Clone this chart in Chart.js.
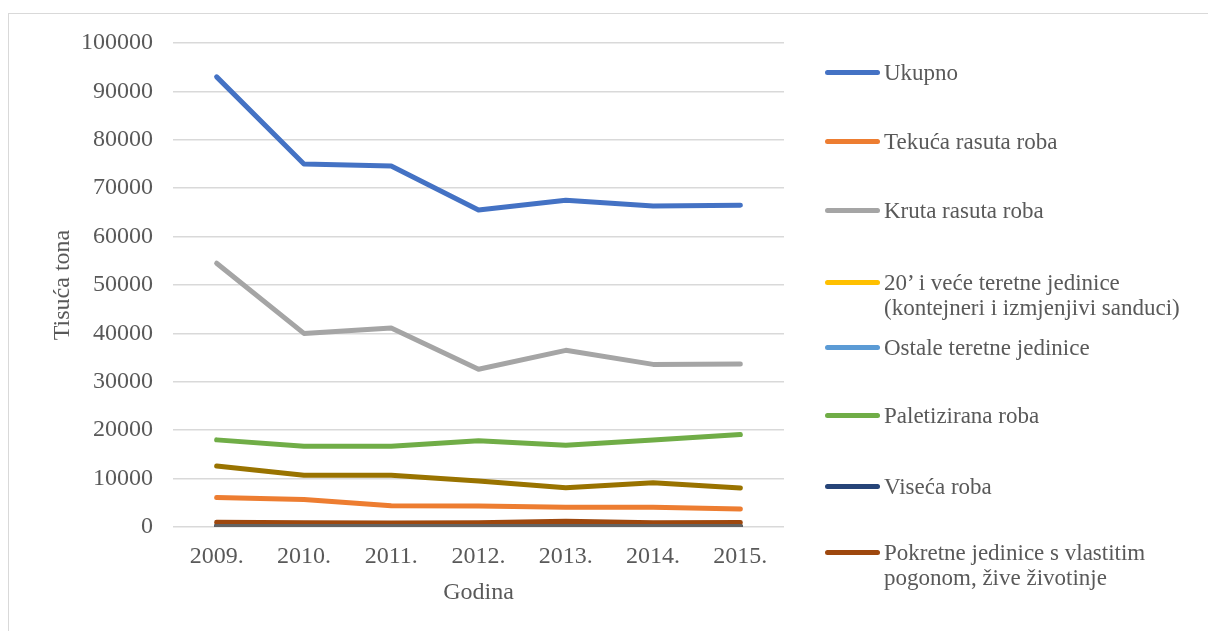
<!DOCTYPE html>
<html>
<head>
<meta charset="utf-8">
<script src="https://cdn.jsdelivr.net/npm/chart.js@4/dist/chart.umd.min.js"></script>
<style>
  body{margin:0;background:#fff;}
  #wrap{position:relative;width:1208px;height:631px;overflow:hidden;}
  #frame{position:absolute;left:8px;top:13px;width:1220px;height:640px;border:1.5px solid #d9d9d9;box-sizing:border-box;}
  canvas{position:absolute;left:0;top:0;}
  #legend{position:absolute;left:825px;top:0;font-family:"Liberation Serif","Times New Roman",serif;font-size:23px;color:#595959;}
  .item{position:absolute;left:0;white-space:nowrap;}
  .mark{position:absolute;left:0;width:55px;height:5px;border-radius:3px;}
  .txt{position:absolute;left:59px;line-height:25px;}
</style>
</head>
<body>
<div id="wrap">
  <div id="frame"></div>
  <canvas id="c" width="1208" height="631"></canvas>
  <div id="legend"></div>
</div>
<script>
const years = ["2009.", "2010.", "2011.", "2012.", "2013.", "2014.", "2015."];

const seriesNames = [
  "Ukupno",
  "Tekuća rasuta roba",
  "Kruta rasuta roba",
  ["20’ i veće teretne jedinice", "(kontejneri i izmjenjivi sanduci)"],
  "Ostale teretne jedinice",
  "Paletizirana roba",
  "Viseća roba",
  ["Pokretne jedinice s vlastitim", "pogonom, žive životinje"],
  "Ostale pokretne jedinice",
  "Ostali tereti"
];
const seriesColors = ["#4472c4", "#ed7d31", "#a5a5a5", "#ffc000", "#5b9bd5", "#70ad47", "#264478", "#9e480e", "#636363", "#997300"];

const ukupno      = [93000, 75000, 74600, 65500, 67500, 66300, 66500];
const tekuca      = [6100, 5700, 4400, 4350, 4100, 4100, 3700];
const kruta       = [54500, 40000, 41100, 32600, 36500, 33600, 33700];
const kontejneri  = [150, 120, 130, 110, 140, 120, 130];
const ostaleJed   = [80, 70, 60, 70, 60, 50, 60];
const paletizirana = [18000, 16700, 16700, 17800, 16900, 18000, 19100];
const viseca      = [200, 180, 170, 160, 190, 170, 180];
const pokretne    = [1000, 900, 850, 900, 1200, 900, 950];
const ostalePokr  = [100, 90, 90, 80, 90, 80, 80];
const ostaliTereti = [12600, 10700, 10700, 9500, 8100, 9150, 8050];

const seriesValues = [ukupno, tekuca, kruta, kontejneri, ostaleJed, paletizirana, viseca, pokretne, ostalePokr, ostaliTereti];

// legend rows shown in the picture (first eight series)
const legendRows = [73, 142, 211, 283, 348, 416, 487, 553];

const datasets = seriesValues.map((vals, i) => ({
  label: Array.isArray(seriesNames[i]) ? seriesNames[i].join(" ") : seriesNames[i],
  data: vals,
  borderColor: seriesColors[i],
  backgroundColor: seriesColors[i],
  borderWidth: 5,
  borderCapStyle: "round",
  borderJoinStyle: "round",
  pointRadius: 0,
  fill: false,
  tension: 0,
  order: seriesValues.length - i
}));

const serif = "'Liberation Serif', 'Times New Roman', serif";

new Chart(document.getElementById("c").getContext("2d"), {
  type: "line",
  data: { labels: years, datasets },
  options: {
    responsive: false,
    animation: false,
    layout: { padding: { left: 44, top: 43, right: 424, bottom: 20 } },
    plugins: { legend: { display: false }, tooltip: { enabled: false } },
    scales: {
      x: {
        offset: true,
        grid: { display: false, drawTicks: false },
        border: { display: false },
        ticks: { color: "#595959", font: { family: serif, size: 24 }, padding: 15 },
        title: { display: true, text: "Godina", color: "#595959", font: { family: serif, size: 24 } },
        afterFit: s => { s.height = 84; }
      },
      y: {
        min: 0,
        max: 100000,
        grid: { color: "#d9d9d9", lineWidth: 1.5, drawTicks: false },
        border: { display: false },
        ticks: {
          stepSize: 10000, color: "#595959", font: { family: serif, size: 24 }, padding: 20,
          callback: v => String(v)
        },
        title: { display: true, text: "Tisuća tona", color: "#595959", font: { family: serif, size: 24 } },
        afterFit: s => { s.width = 129; }
      }
    }
  }
});

const legend = document.getElementById("legend");
legendRows.forEach((y, i) => {
  const item = document.createElement("div");
  item.className = "item";
  item.style.top = (y - 13) + "px";
  const mark = document.createElement("div");
  mark.className = "mark";
  mark.style.top = "10px";
  mark.style.background = seriesColors[i];
  const txt = document.createElement("div");
  txt.className = "txt";
  const name = seriesNames[i];
  txt.innerHTML = (Array.isArray(name) ? name : [name]).join("<br>");
  item.appendChild(mark);
  item.appendChild(txt);
  legend.appendChild(item);
});
</script>
</body>
</html>
